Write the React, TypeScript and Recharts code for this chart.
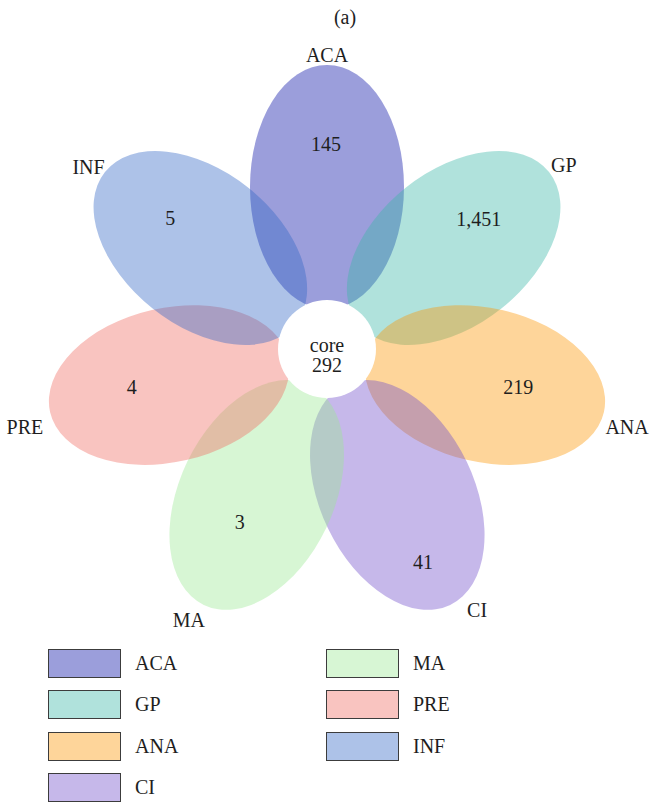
import React from 'react';
import { PieChart, Pie, Cell, Legend } from 'recharts';

// ---------- data ----------
const categories = ['ACA', 'GP', 'ANA', 'CI', 'MA', 'PRE', 'INF'];
const uniqueCounts = [145, 1451, 219, 41, 3, 4, 5];
const petalWeights = [1, 1, 1, 1, 1, 1, 1];
const coreName = 'core';
const coreCount = 292;
const titleText = '(a)';

// ---------- style ----------
const petalColors = ['#050da5', '#3ab6a8', '#fd9603', '#714eca', '#9be894', '#f06c62', '#3266c5'];
const petalOpacity = 0.4;
// label placement (radius from the core centre, and a small angular nudge in degrees)
const countRadius = [205, 200, 195, 234, 194, 199, 204];
const countNudge = [0.3, 2.1, 1.5, -1.5, -1.0, -1.9, -1.2];
const nameRadius = [294, 300, 310, 301, 304, 312, 300];
const nameNudge = [0, -0.7, -1.7, 4.2, -1.3, 1.6, 1.2];
const W = 657;
const H = 806;
const CX = 327;
const CY = 349;
const PETAL_DIST = 162;
const PETAL_LONG = 122;
const PETAL_SHORT = 77;
const CORE_R = 49;
const FONT = '"Liberation Serif", "Times New Roman", serif';
const FS = 20;
const TEXT_COLOR = '#1e1e1e';

const petalData = categories.map((name, i) => ({ name, count: uniqueCounts[i], weight: petalWeights[i] }));
const coreData = [{ name: coreName, count: coreCount }];

const START = 90 + 180 / categories.length;
const END = START - 360;

const polar = (cx: number, cy: number, r: number, angle: number) => {
  const rad = (-angle * Math.PI) / 180;
  return { x: cx + r * Math.cos(rad), y: cy + r * Math.sin(rad) };
};

const renderPetal = (props: any) => {
  const { cx, cy, midAngle, index } = props;
  const c = polar(cx, cy, PETAL_DIST, midAngle);
  return (
    <ellipse
      key={`petal-${index}`}
      cx={c.x}
      cy={c.y}
      rx={PETAL_LONG}
      ry={PETAL_SHORT}
      transform={`rotate(${-midAngle} ${c.x} ${c.y})`}
      fill={petalColors[index]}
      fillOpacity={petalOpacity}
      stroke="none"
    />
  );
};

const renderPetalText = (props: any) => {
  const { cx, cy, midAngle, index, payload } = props;
  const p = polar(cx, cy, countRadius[index], midAngle + countNudge[index]);
  const n = polar(cx, cy, nameRadius[index], midAngle + nameNudge[index]);
  const cnt = (payload && payload.count != null ? payload.count : uniqueCounts[index]) as number;
  return (
    <g key={`ptxt-${index}`}>
      <text x={p.x} y={p.y} textAnchor="middle" dominantBaseline="central" fontFamily={FONT} fontSize={FS} fill={TEXT_COLOR}>
        {cnt.toLocaleString('en-US')}
      </text>
      <text x={n.x} y={n.y} textAnchor="middle" dominantBaseline="central" fontFamily={FONT} fontSize={FS} fill={TEXT_COLOR}>
        {categories[index]}
      </text>
    </g>
  );
};

const renderCore = (props: any) => {
  const { cx, cy } = props;
  return (
    <g key="core">
      <circle cx={cx} cy={cy} r={CORE_R} fill="#ffffff" />
      <text x={cx} y={cy + 3} textAnchor="middle" fontFamily={FONT} fontSize={FS} fill={TEXT_COLOR}>
        {coreName}
      </text>
      <text x={cx} y={cy + 23} textAnchor="middle" fontFamily={FONT} fontSize={FS} fill={TEXT_COLOR}>
        {coreCount}
      </text>
    </g>
  );
};

const LEG_TOP = 640;
const renderLegend = () => (
  <div style={{ position: 'relative', width: W, height: H - LEG_TOP, fontFamily: FONT }}>
    {categories.map((name, i) => {
      const col = Math.floor(i / 4);
      const row = i % 4;
      const left = 48 + col * 278;
      const top = 9 + row * 41.3;
      return (
        <div key={name} style={{ position: 'absolute', left, top, height: 29, display: 'flex', alignItems: 'center' }}>
          <div
            style={{
              width: 73,
              height: 29,
              boxSizing: 'border-box',
              border: '1.5px solid #3c3c3c',
              background: petalColors[i],
              position: 'relative',
            }}
          >
            <div style={{ position: 'absolute', inset: 0, background: '#ffffff', opacity: 1 - petalOpacity }} />
          </div>
          <span style={{ marginLeft: 14, fontSize: FS, color: TEXT_COLOR, lineHeight: '29px' }}>{name}</span>
        </div>
      );
    })}
  </div>
);

export default function App() {
  return (
    <div style={{ position: 'relative', width: W, height: H, background: '#ffffff', fontFamily: FONT }}>
      <style>{'body{margin:0;background:#ffffff;}'}</style>
      <div
        style={{
          position: 'absolute',
          left: 345 - 30,
          width: 60,
          top: 6,
          textAlign: 'center',
          fontSize: FS,
          lineHeight: '22px',
          color: TEXT_COLOR,
        }}
      >
        {titleText}
      </div>
      <PieChart width={W} height={H} margin={{ top: 0, right: 0, bottom: 0, left: 0 }}>
        <Pie
          data={petalData}
          dataKey="weight"
          nameKey="name"
          cx={CX}
          cy={CY}
          outerRadius={PETAL_DIST}
          startAngle={START}
          endAngle={END}
          fill="none"
          stroke="none"
          label={renderPetal}
          labelLine={false}
          isAnimationActive={false}
        >
          {petalData.map((d) => (
            <Cell key={d.name} fill="none" stroke="none" />
          ))}
        </Pie>
        <Pie
          data={petalData}
          dataKey="weight"
          nameKey="name"
          cx={CX}
          cy={CY}
          outerRadius={PETAL_DIST}
          startAngle={START}
          endAngle={END}
          fill="none"
          stroke="none"
          label={renderPetalText}
          labelLine={false}
          isAnimationActive={false}
        >
          {petalData.map((d) => (
            <Cell key={d.name} fill="none" stroke="none" />
          ))}
        </Pie>
        <Pie
          data={coreData}
          dataKey="count"
          nameKey="name"
          cx={CX}
          cy={CY}
          outerRadius={CORE_R}
          fill="#ffffff"
          stroke="none"
          label={renderCore}
          labelLine={false}
          isAnimationActive={false}
        />
        <Legend
          verticalAlign="bottom"
          align="left"
          content={renderLegend}
          wrapperStyle={{ left: 0, top: LEG_TOP, width: W, height: H - LEG_TOP }}
        />
      </PieChart>
    </div>
  );
}
